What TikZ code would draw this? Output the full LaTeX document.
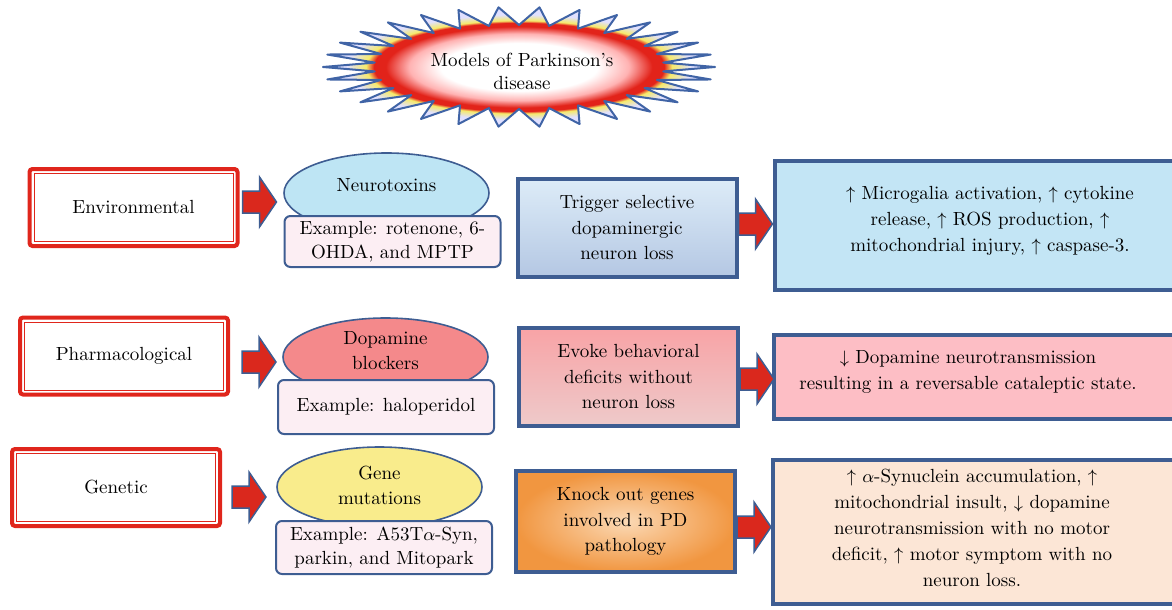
\documentclass[tikz,border=0pt]{standalone}
\usepackage{amsmath,amssymb}
\usepackage{tikz}
\usetikzlibrary{shapes.geometric}

\definecolor{catred}{HTML}{E0261C}
\definecolor{edgeblue}{HTML}{3E5D92}
\definecolor{arrowred}{HTML}{DA281D}
\definecolor{burstblue}{HTML}{4064A6}
\definecolor{burstred}{HTML}{E2231A}
\definecolor{burstyellow}{HTML}{F6EA6A}
\definecolor{neurofill}{HTML}{BEE5F4}
\definecolor{dopafill}{HTML}{F4898B}
\definecolor{genefill}{HTML}{F9EC8C}
\definecolor{exfill}{HTML}{FCEEF3}
\definecolor{trigtop}{HTML}{DDECF8}
\definecolor{trigbot}{HTML}{B4C7E3}
\definecolor{evoketop}{HTML}{F8A3A6}
\definecolor{evokebot}{HTML}{EECACA}
\definecolor{knockin}{HTML}{FBD9B5}
\definecolor{knockout}{HTML}{F19640}
\definecolor{resblue}{HTML}{C3E5F5}
\definecolor{respink}{HTML}{FDBEC5}
\definecolor{respeach}{HTML}{FCE6D6}

\pgfdeclareradialshading{burstshade}{\pgfpoint{0bp}{0bp}}{color(0bp)=(white); color(10bp)=(white); color(14bp)=(red!30); color(17bp)=(burstred); color(18.5bp)=(burstred); color(19.5bp)=(burstyellow); color(22bp)=(blue!12); color(25bp)=(blue!12); color(50bp)=(blue!12)}

\tikzset{
  catbox/.style={draw=catred, line width=2pt, rounded corners=1.5pt, minimum width=104pt, minimum height=38.5pt, font=\fontsize{9.5}{12.75}\selectfont},
  catinner/.style={draw=catred, line width=0.5pt},
  agent/.style={ellipse, draw=edgeblue, line width=0.8pt, minimum width=102.5pt, align=center, inner sep=1pt, font=\fontsize{9.5}{12.5}\selectfont},
  example/.style={draw=edgeblue, line width=1pt, rounded corners=3pt, fill=exfill, minimum width=108pt, align=center, inner sep=1pt, font=\fontsize{9.5}{11.75}\selectfont},
  effect/.style={draw=edgeblue, line width=2pt, minimum width=109.5pt, minimum height=49pt, align=center, inner sep=1pt, font=\fontsize{9.5}{12.75}\selectfont},
  outcome/.style={draw=edgeblue, line width=2pt, minimum width=213pt},
  outtext/.style={align=center, inner sep=0pt, font=\fontsize{9.5}{13}\selectfont},
  arrowline/.style={draw=edgeblue, fill=arrowred, line width=0.75pt},
  blockarrow/.pic={\path[arrowline] (0,-11) -- (17,-11) -- (17,-25) -- (34,0) -- (17,25) -- (17,11) -- (0,11) -- cycle;},
  burst/.style={draw=burstblue, line width=1pt, line join=round, shading=burstshade},
  titletext/.style={align=center, inner sep=0pt, font=\fontsize{9.5}{11.5}\selectfont}
}

\begin{document}
\begin{tikzpicture}[x=0.5pt,y=-0.5pt]
  \useasboundingbox (0,0) rectangle (1172,610); % 画像全体の範囲
  \clip (0,0) rectangle (1172,610); % 右端の箱を切り取る
  \shadedraw[burst] plot[samples at={0,6,...,354}] ({519+(196-51*mod(\x/6,2))*cos(\x)},{67+(60-18*mod(\x/6,2))*sin(\x)}) -- cycle; % 上部の星形
  \node[titletext] (models) at (522,71.5) {Models of Parkinson’s\\disease}; % 表題

  % 1段目
  \node[catbox] (env) at (133.5,207.5) {Environmental}; % 分類の箱
  \node[agent, fill=neurofill, minimum height=40pt, text depth=8pt] (neuro) at (386.5,193) {Neurotoxins}; % 楕円
  \node[example, minimum height=25.5pt] (ex1) at (392.5,241.5) {Example: rotenone, 6-\\OHDA, and MPTP}; % 例の箱
  \node[effect, top color=trigtop, bottom color=trigbot] (trig) at (627,228) {Trigger selective\\dopaminergic\\neuron loss}; % 中央の箱
  \node[outcome, fill=resblue, minimum height=64.5pt] (res1) at (988,225.5) {}; % 右の箱
  \node[outtext] (res1txt) at (990,221) {$\uparrow$ Microgalia activation, $\uparrow$ cytokine\\release, $\uparrow$ ROS production, $\uparrow$\\mitochondrial injury, $\uparrow$ caspase-3.}; % 右の箱の文

  % 2段目
  \node[catbox] (pharm) at (124,356) {Pharmacological};
  \node[agent, fill=dopafill, minimum height=39pt, text depth=6.5pt] (dopa) at (385.5,357) {Dopamine\\blockers};
  \node[example, minimum height=27pt] (ex2) at (386,407) {Example: haloperidol};
  \node[effect, top color=evoketop, bottom color=evokebot] (evoke) at (628.5,377) {Evoke behavioral\\deficits without\\neuron loss};
  \node[outcome, fill=respink, minimum height=42pt] (res2) at (987,377) {};
  \node[outtext] (res2txt) at (968,372) {$\downarrow$ Dopamine neurotransmission\\resulting in a reversable cataleptic state.};

  % 3段目
  \node[catbox] (gen) at (116,487.5) {Genetic};
  \node[agent, fill=genefill, minimum height=40pt, text depth=1.5pt] (gene) at (379.5,487) {Gene\\mutations};
  \node[example, minimum height=26.5pt] (ex3) at (384,547.5) {Example: A53T$\alpha$-Syn,\\parkin, and Mitopark};
  \node[effect, inner color=knockin, outer color=knockout, minimum height=50.5pt] (knock) at (625.5,521.5) {Knock out genes\\involved in PD\\pathology};
  \node[outcome, fill=respeach, minimum height=72pt] (res3) at (985.5,532) {};
  \node[outtext] (res3txt) at (972,528) {$\uparrow$ $\alpha$-Synuclein accumulation, $\uparrow$\\mitochondrial insult, $\downarrow$ dopamine\\neurotransmission with no motor\\deficit, $\uparrow$ motor symptom with no\\neuron loss.};

  % 分類の箱の内側の細い線
  \foreach \n in {env,pharm,gen}
    \draw[catinner] ([shift={(6.5,6.5)}]\n.north west) rectangle ([shift={(-6.5,-6.5)}]\n.south east);

  % 太い矢印
  \pic at ([shift={(3,-5.5)}]env.east) {blockarrow};
  \pic at ([shift={(12,6)}]pharm.east) {blockarrow};
  \pic at ([shift={(10,9.5)}]gen.east) {blockarrow};
  \pic at ([shift={(0,-4)}]trig.east) {blockarrow};
  \pic at ([shift={(0,2)}]evoke.east) {blockarrow};
  \pic at ([shift={(0,5.5)}]knock.east) {blockarrow};
\end{tikzpicture}
\end{document}
